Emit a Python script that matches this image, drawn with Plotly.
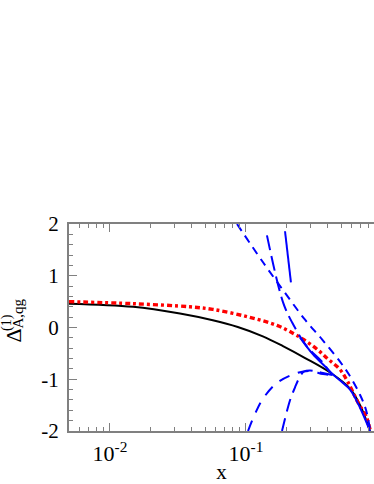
import plotly.graph_objects as go

# ---- data ----
black_x = [0.005, 0.0148, 0.0327, 0.057, 0.087, 0.133, 0.187, 0.272, 0.415, 0.582, 0.69, 0.816]
black_y = [0.46, 0.40, 0.27, 0.14, 0.01, -0.17, -0.36, -0.59, -0.87, -1.18, -1.50, -2.0]

red_x = [0.005, 0.0148, 0.0387, 0.057, 0.1017, 0.169, 0.225, 0.265, 0.333, 0.405, 0.49, 0.56, 0.66, 0.77, 0.816]
red_y = [0.50, 0.46, 0.40, 0.35, 0.21, 0.04, -0.12, -0.23, -0.42, -0.62, -0.81, -1.05, -1.43, -1.74, -1.97]

blueA_x = [0.0859, 0.1334, 0.1936, 0.2716, 0.3622, 0.4909, 0.5717, 0.6887, 0.762, 0.816]
blueA_y = [2.0, 1.26, 0.67, 0.15, -0.23, -0.66, -0.91, -1.30, -1.59, -1.97]

blueB_x = [0.1426, 0.187, 0.218, 0.281, 0.362, 0.415]
blueB_y = [1.78, 0.49, 0.10, -0.37, -0.66, -0.87]

blueS_x = [0.1936, 0.214, None, 0.249, 0.311, 0.38, 0.436, 0.5, 0.582, 0.689, 0.816]
blueS_y = [1.86, 0.87, None, -0.19, -0.52, -0.75, -0.91, -1.04, -1.2, -1.55, -2.0]

blueC_x = [0.1035, 0.116, 0.133, 0.169, 0.237, 0.296, 0.368, 0.436]
blueC_y = [-2.0, -1.68, -1.38, -1.07, -0.88, -0.84, -0.90, -0.92]

blueD_x = [0.184, 0.211, 0.229, 0.249, 0.267, 0.296, 0.368, 0.436]
blueD_y = [-2.0, -1.4, -1.16, -0.95, -0.85, -0.83, -0.88, -0.92]

x_tickvals = [0.01, 0.1]
x_ticktext = ["10<sup>-2</sup>", "10<sup>-1</sup>"]
x_minor = [m * d for d in (0.001, 0.01, 0.1) for m in range(2, 10)]
y_tickvals = [-2, -1, 0, 1, 2]
y_ticktext = ["-2", "-1", "0", "1", "2"]

FONT = "Liberation Serif"
W, H = 374, 484
L, R, T, B = 69, 0, 224, 53

fig = go.Figure()
fig.add_trace(go.Scatter(x=black_x, y=black_y, mode="lines", line=dict(color="black", width=2), line_shape="spline"))
fig.add_trace(go.Scatter(x=red_x, y=red_y, mode="lines", line=dict(color="#ff0000", width=3.4, dash="5px,3px,3px,3px"), line_shape="spline"))
fig.add_trace(go.Scatter(x=blueA_x, y=blueA_y, mode="lines", line=dict(color="#0000ff", width=2, dash="8px,6px"), line_shape="spline"))
fig.add_trace(go.Scatter(x=blueB_x, y=blueB_y, mode="lines", line=dict(color="#0000ff", width=2, dash="15px,6px"), line_shape="spline"))
fig.add_trace(go.Scatter(x=blueS_x, y=blueS_y, mode="lines", line=dict(color="#0000ff", width=2), line_shape="spline", connectgaps=False))
fig.add_trace(go.Scatter(x=blueC_x, y=blueC_y, mode="lines", line=dict(color="#0000ff", width=2, dash="11px,9px"), line_shape="spline"))
fig.add_trace(go.Scatter(x=blueD_x, y=blueD_y, mode="lines", line=dict(color="#0000ff", width=2, dash="13px,7px"), line_shape="spline"))

axcol = "#808080"
fig.update_layout(
    width=W, height=H,
    margin=dict(l=L, r=R, t=T, b=B),
    paper_bgcolor="white", plot_bgcolor="white",
    showlegend=False,
    font=dict(family=FONT, size=20, color="black"),
    xaxis=dict(
        type="log", range=[-2.301, -0.059],
        tickmode="array", tickvals=x_tickvals, ticktext=x_ticktext,
        ticks="inside", ticklen=8, tickwidth=1, tickcolor=axcol,
        showline=True, linecolor=axcol, linewidth=2, mirror="ticks",
        showgrid=False, zeroline=False,
        minor=dict(tickvals=x_minor, ticks="inside", ticklen=4, tickwidth=1, tickcolor=axcol, showgrid=False),
        tickfont=dict(family=FONT, size=22),
        ticklabelstandoff=2,
        title=dict(text="x", font=dict(family=FONT, size=21), standoff=0),
        automargin=False,
    ),
    yaxis=dict(
        range=[-2, 2],
        tickmode="array", tickvals=y_tickvals, ticktext=y_ticktext,
        ticks="inside", ticklen=8, tickwidth=1, tickcolor=axcol,
        showline=True, linecolor=axcol, linewidth=2, mirror=False,
        showgrid=False, zeroline=False,
        minor=dict(dtick=0.2, ticks="inside", ticklen=4, tickwidth=1, tickcolor=axcol, showgrid=False),
        tickfont=dict(family=FONT, size=21),
        ticklabelstandoff=4,
        automargin=False,
    ),
)

pw, ph = W - L - R, H - T - B
def px2paper(px, py):
    return (px - L) / pw, (H - B - py) / ph

for txt, (cx, cy), size in [("Δ", (12.5, 336), 22), ("(1)", (7, 323), 14), ("A,qg", (17.5, 314), 15)]:
    xp, yp = px2paper(cx, cy)
    fig.add_annotation(text=txt, x=xp, y=yp, xref="paper", yref="paper", showarrow=False,
                       textangle=-90, xanchor="center", yanchor="middle",
                       font=dict(family=FONT, size=size, color="black"))

fig.write_html("out.html", config={"displayModeBar": False},
               post_script="document.body.style.margin='0';")
